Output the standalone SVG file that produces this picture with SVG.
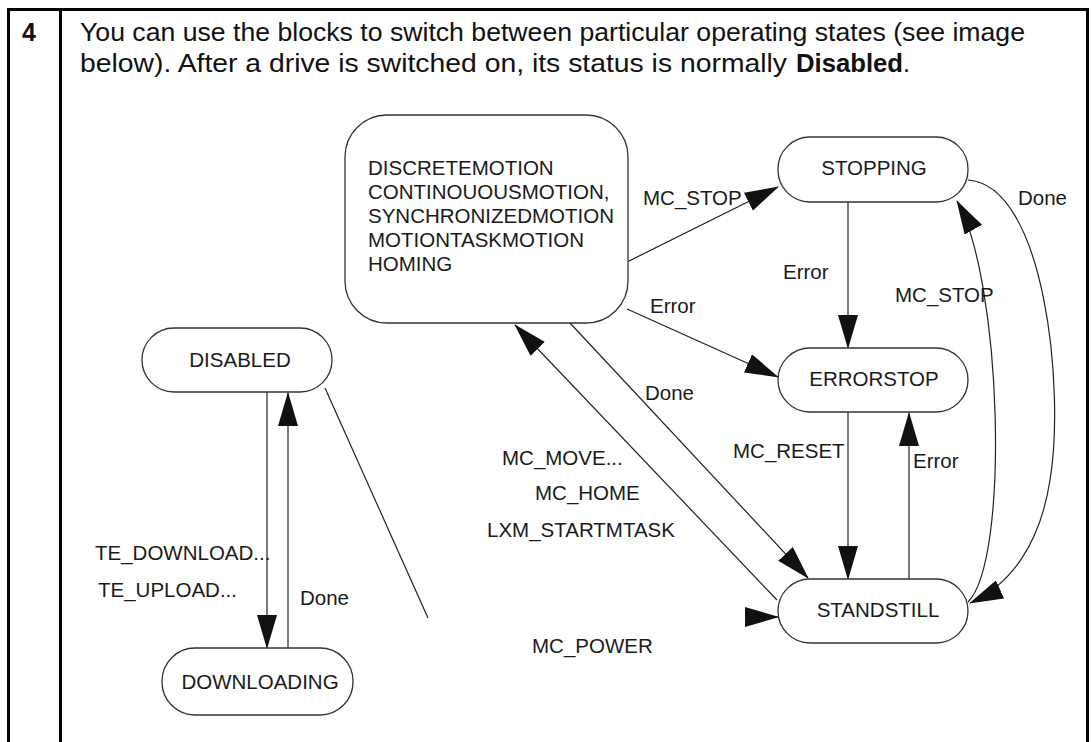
<svg xmlns="http://www.w3.org/2000/svg" width="1091" height="742" viewBox="0 0 1091 742">
<style>
.hdr{font-family:"Liberation Sans",Arial,sans-serif;font-size:25px;fill:#111}
.b{font-weight:bold}
.node rect{fill:#fff;stroke:#333;stroke-width:1.3}
.nt{font-family:"Liberation Sans",Arial,sans-serif;font-size:20.5px;fill:#1a1a1a;text-anchor:middle}
.lb{font-family:"Liberation Sans",Arial,sans-serif;font-size:20.5px;fill:#1a1a1a}
.c{fill:none;stroke:#222;stroke-width:1.2}
.a{marker-end:url(#arr)}
</style>
<defs>
<marker id="arr" markerUnits="userSpaceOnUse" markerWidth="34" markerHeight="20" refX="33" refY="10" orient="auto" viewBox="0 0 34 20">
<path d="M0,0 L34,10 L0,20 Z" fill="#111"/>
</marker>
</defs>
<rect width="1091" height="742" fill="#fff"/>
<g id="table" fill="#000">
<rect x="7" y="8" width="1082" height="3"/>
<rect x="7" y="8" width="3" height="734"/>
<rect x="59" y="8" width="3" height="734"/>
<rect x="1086" y="8" width="3" height="734"/>
</g>
<g id="header">
<text class="hdr b" x="22" y="41" font-size="21">4</text>
<text class="hdr" x="80" y="41" textLength="945" lengthAdjust="spacingAndGlyphs">You can use the blocks to switch between particular operating states (see image</text>
<text class="hdr" x="80" y="72"><tspan textLength="707" lengthAdjust="spacingAndGlyphs">below). After a drive is switched on, its status is normally</tspan> <tspan class="b" x="796" textLength="107" lengthAdjust="spacingAndGlyphs">Disabled</tspan><tspan x="903">.</tspan></text>
</g>
<g id="connectors">
<path class="c a" d="M267,392 L267,648"/>
<path class="c a" d="M288,648 L288,393"/>
<path class="c" d="M325,388 L428,618"/>
<path class="c a" d="M746,617 L778,617"/>
<path class="c a" d="M777,600 L515,325"/>
<path class="c a" d="M570,323 L808,578"/>
<path class="c a" d="M627,262 L778,187"/>
<path class="c a" d="M627,309 L778,377"/>
<path class="c a" d="M848,202 L848,348"/>
<path class="c a" d="M848,412 L848,579"/>
<path class="c a" d="M909,579 L909,413"/>
<path class="c a" d="M968,602 C1010,560 1002,280 957,201"/>
<path class="c a" d="M968,180 C1045,185 1065,390 1050,480 C1040,545 1010,585 970,603"/>
</g>
<g id="labels">
<text class="lb" x="643" y="205">MC_STOP</text>
<text class="lb" x="650" y="313">Error</text>
<text class="lb" x="783" y="279">Error</text>
<text class="lb" x="895" y="302">MC_STOP</text>
<text class="lb" x="1018" y="205">Done</text>
<text class="lb" x="645" y="400">Done</text>
<text class="lb" x="733" y="458">MC_RESET</text>
<text class="lb" x="913" y="468">Error</text>
<text class="lb" x="502" y="465">MC_MOVE...</text>
<text class="lb" x="535" y="500">MC_HOME</text>
<text class="lb" x="487" y="537">LXM_STARTMTASK</text>
<text class="lb" x="532" y="653">MC_POWER</text>
<text class="lb" x="95" y="560">TE_DOWNLOAD...</text>
<text class="lb" x="98" y="597">TE_UPLOAD...</text>
<text class="lb" x="300" y="605">Done</text>
</g>
<g id="motion" class="node">
<rect x="345" y="115" width="283" height="208" rx="42"/>
<text class="lb" x="368" y="175">DISCRETEMOTION</text>
<text class="lb" x="368" y="199">CONTINOUOUSMOTION,</text>
<text class="lb" x="368" y="223">SYNCHRONIZEDMOTION</text>
<text class="lb" x="368" y="247">MOTIONTASKMOTION</text>
<text class="lb" x="368" y="271">HOMING</text>
</g>
<g id="stopping" class="node">
<rect x="778" y="137" width="190" height="65" rx="32"/>
<text class="nt" x="874" y="175">STOPPING</text>
</g>
<g id="errorstop" class="node">
<rect x="778" y="348" width="190" height="64" rx="32"/>
<text class="nt" x="874" y="386">ERRORSTOP</text>
</g>
<g id="standstill" class="node">
<rect x="778" y="579" width="190" height="64" rx="32"/>
<text class="nt" x="878" y="617">STANDSTILL</text>
</g>
<g id="disabled" class="node">
<rect x="142" y="328" width="190" height="64" rx="32"/>
<text class="nt" x="240" y="367">DISABLED</text>
</g>
<g id="downloading" class="node">
<rect x="162" y="648" width="191" height="67" rx="33"/>
<text class="nt" x="260" y="689">DOWNLOADING</text>
</g>
</svg>
